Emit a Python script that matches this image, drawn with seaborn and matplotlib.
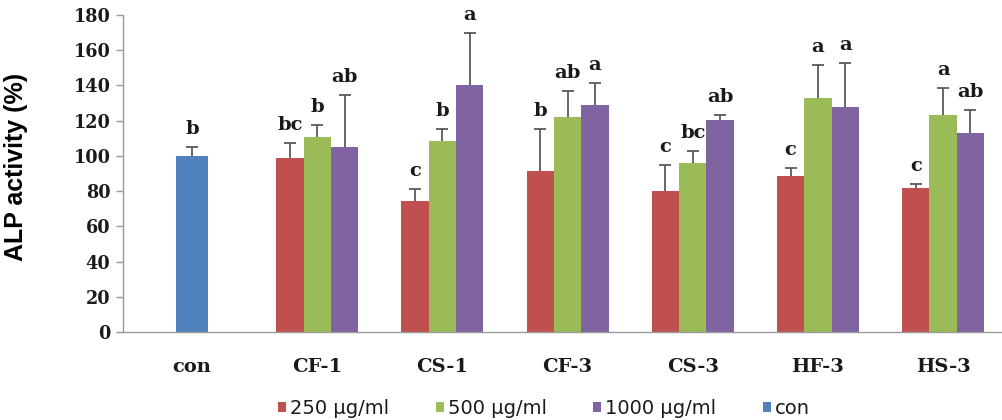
import numpy as np
import pandas as pd
import seaborn as sns
import matplotlib.pyplot as plt
from matplotlib.patches import Patch

# ---- data ----
categories = ["con", "CF-1", "CS-1", "CF-3", "CS-3", "HF-3", "HS-3"]
groups = ["CF-1", "CS-1", "CF-3", "CS-3", "HF-3", "HS-3"]
doses = ["250 μg/ml", "500 μg/ml", "1000 μg/ml"]
con_label = "con"
con_value = 100
con_err = 5
con_letter = "b"
vals_250 = [99, 74.5, 91.5, 80, 88.5, 82]
vals_500 = [110.5, 108.5, 122, 96, 133, 123.5]
vals_1000 = [105, 140, 129, 120.5, 128, 113]
err_250 = [8.5, 6.5, 23.5, 15, 4.5, 2]
err_500 = [7, 6.5, 15, 6.5, 18.5, 15]
err_1000 = [29.5, 30, 12.5, 2.5, 24.5, 13]
let_250 = ["bc", "c", "b", "c", "c", "c"]
let_500 = ["b", "b", "ab", "bc", "a", "a"]
let_1000 = ["ab", "a", "a", "ab", "a", "ab"]
yticks = [0, 20, 40, 60, 80, 100, 120, 140, 160, 180]

dose_colors = ["#C0504D", "#9BBB59", "#8064A2"]
con_color = "#4F81BD"

sns.set_theme(style="white")

fig = plt.figure(figsize=(10.02, 4.2), dpi=100)
ax = fig.add_axes([123 / 1002, 1 - 332 / 420, 1 - 123 / 1002, (332 - 15) / 420])

rows = []
for d, vals in zip(doses, [vals_250, vals_500, vals_1000]):
    for g, v in zip(groups, vals):
        rows.append({"group": g, "dose": d, "value": v})
df = pd.DataFrame(rows)

group_width = 0.655
sns.barplot(data=df, x="group", y="value", hue="dose", order=categories,
            hue_order=doses, palette=dose_colors, width=group_width,
            saturation=1, errorbar=None, ax=ax, legend=False, linewidth=0)
sns.barplot(x=[con_label], y=[con_value], order=categories, color=con_color,
            width=0.25, saturation=1, errorbar=None, ax=ax, linewidth=0)

# error bars + letters
bw = group_width / len(doses)
err_color = "#5a5a5a"
letter_kw = dict(ha="center", va="bottom", fontfamily="DejaVu Serif",
                 fontweight="bold", fontsize=14, color="#1a1a1a",
                 textcoords="offset points", xytext=(0, 6.5), annotation_clip=False)

def draw_err(xs, ys, es, letters):
    xs = np.asarray(xs, float); ys = np.asarray(ys, float); es = np.asarray(es, float)
    eb = ax.errorbar(xs, ys, yerr=[np.zeros_like(es), es], fmt="none",
                     ecolor=err_color, elinewidth=1.3, capsize=4, capthick=1.3)
    eb[1][0].set_visible(False)
    for x, y, e, l in zip(xs, ys, es, letters):
        ax.annotate(l, (x, y + e), **letter_kw)

for j, (vals, errs, lets) in enumerate(zip([vals_250, vals_500, vals_1000],
                                           [err_250, err_500, err_1000],
                                           [let_250, let_500, let_1000])):
    xs = [categories.index(g) + (j - 1) * bw for g in groups]
    draw_err(xs, vals, errs, lets)
draw_err([categories.index(con_label)], [con_value], [con_err], [con_letter])

# axes styling
ax.set_ylim(0, 180)
ax.set_xlim(-0.551, 6.47)
ax.set_yticks(yticks)
ax.set_xlabel("")
for s in ["top", "right"]:
    ax.spines[s].set_visible(False)
for s in ["left", "bottom"]:
    ax.spines[s].set_color("#999999")
    ax.spines[s].set_linewidth(1.0)
ax.tick_params(axis="y", left=True, direction="out", length=5, width=1,
               color="#999999", pad=4)
ax.tick_params(axis="x", bottom=False, length=0, pad=19)
for lbl in ax.get_yticklabels():
    lbl.set_fontfamily("DejaVu Serif"); lbl.set_fontweight("bold")
    lbl.set_fontsize(12.7); lbl.set_color("#1a1a1a")
for lbl in ax.get_xticklabels():
    lbl.set_fontfamily("DejaVu Serif"); lbl.set_fontweight("bold")
    lbl.set_fontsize(14); lbl.set_color("#1a1a1a")

ax.set_ylabel("ALP activity (%)", fontfamily="Liberation Sans", fontweight="bold",
              fontsize=18, color="#000000")
ax.yaxis.set_label_coords(-0.108, 0.52)

handles = [Patch(facecolor=c, edgecolor="none") for c in dose_colors] + \
          [Patch(facecolor=con_color, edgecolor="none")]
labels = doses + [con_label]
fig.legend(handles, labels, loc="lower center", bbox_to_anchor=(544 / 1002, 0.004),
           ncol=4, frameon=False, prop={"family": "DejaVu Sans", "size": 14},
           handlelength=0.42, handleheight=0.42, handletextpad=0.2,
           columnspacing=2.4, borderaxespad=0, borderpad=0, labelcolor="#1a1a1a")

fig.savefig("out.png", dpi=100)
